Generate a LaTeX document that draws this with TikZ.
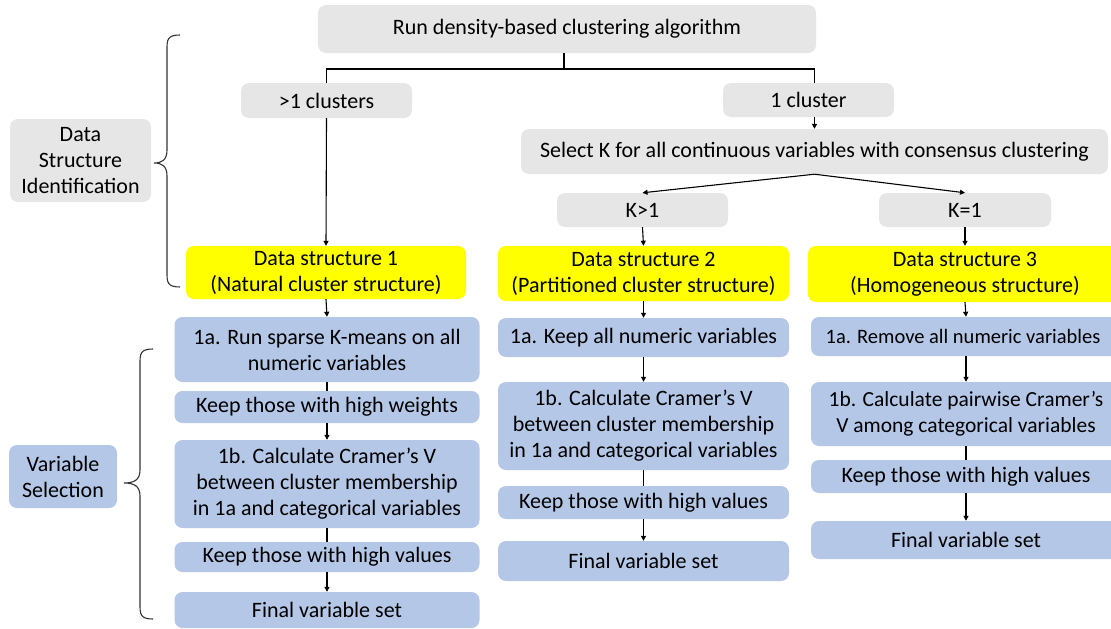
\documentclass[tikz,border=0pt]{standalone}
\usepackage{fontspec}
\setmainfont{Carlito}
\usetikzlibrary{arrows.meta}
\definecolor{boxgrey}{HTML}{E7E6E6}
\definecolor{boxblue}{HTML}{B4C7E7}
\definecolor{boxyellow}{HTML}{FFFF00}
\tikzset{
  base/.style={rounded corners=8pt, inner sep=0pt, align=center, font=\fontsize{22}{26}\selectfont, text=black},
  gbox/.style={base, fill=boxgrey},
  bbox/.style={base, fill=boxblue},
  ybox/.style={base, fill=boxyellow},
  ln/.style={line width=1.1pt, black},
  arr/.style={ln, -{Triangle[length=5pt,width=5pt]}},
  brc/.style={line width=1.1pt, black!80},
}
\begin{document}
\begin{tikzpicture}[x=1pt,y=-1pt]
\useasboundingbox (0,0) rectangle (1111,629);
% top level
\node[gbox, minimum width=498, minimum height=48] (top) at (567,29) {Run density-based clustering algorithm};
\node[gbox, minimum width=171, minimum height=35] (c1) at (326.5,100.5) {>1 clusters};
\node[gbox, minimum width=171, minimum height=34] (c2) at (808.5,100) {1 cluster};
\node[gbox, minimum width=587, minimum height=45] (selk) at (814.5,151.5) {Select K for all continuous variables with consensus clustering};
\node[gbox, minimum width=171, minimum height=34] (kgt) at (642.5,210) {K>1};
\node[gbox, minimum width=172, minimum height=34] (keq) at (965,210) {K=1};
% data structures
\node[ybox, minimum width=280, minimum height=53] (ds1) at (326,272.5) {Data structure 1\\(Natural cluster structure)};
\node[ybox, minimum width=291, minimum height=55] (ds2) at (643.5,273.5) {Data structure 2\\(Partitioned cluster structure)};
\node[ybox, minimum width=314, minimum height=56] (ds3) at (965,274) {Data structure 3\\(Homogeneous structure)};
% side labels
\node[gbox, minimum width=141, minimum height=83] (dsi) at (80.5,160.5) {Data\\Structure\\Identification};
\node[bbox, minimum width=108, minimum height=63] (vs) at (63,476.5) {Variable\\Selection};
% column 1
\node[bbox, minimum width=305, minimum height=65] (a1) at (327,349.5) {1a. Run sparse K-means on all\\numeric variables};
\node[bbox, minimum width=305, minimum height=32] (w1) at (327,407) {Keep those with high weights};
\node[bbox, minimum width=305, minimum height=88] (b1) at (327,484) {1b. Calculate Cramer’s V\\between cluster membership\\in 1a and categorical variables};
\node[bbox, minimum width=305, minimum height=30] (v1) at (327,557) {Keep those with high values};
\node[bbox, minimum width=305, minimum height=36] (f1) at (327,610) {Final variable set};
% column 2
\node[bbox, minimum width=291, minimum height=39] (a2) at (643.5,337.5) {1a. Keep all numeric variables};
\node[bbox, minimum width=291, minimum height=88] (b2) at (643.5,426) {1b. Calculate Cramer’s V\\between cluster membership\\in 1a and categorical variables};
\node[bbox, minimum width=291, minimum height=33] (v2) at (643.5,502.5) {Keep those with high values};
\node[bbox, minimum width=291, minimum height=40] (f2) at (643.5,561) {Final variable set};
% column 3
\node[bbox, minimum width=310, minimum height=39, font=\fontsize{20.5}{25}\selectfont] (a3) at (966,336.5) {\hspace*{-6pt}1a. Remove all numeric variables};
\node[bbox, minimum width=310, minimum height=64, font=\fontsize{21.5}{26}\selectfont] (b3) at (966,414) {1b. Calculate pairwise Cramer’s\\V among categorical variables};
\node[bbox, minimum width=310, minimum height=33] (v3) at (966,476.5) {Keep those with high values};
\node[bbox, minimum width=310, minimum height=38] (f3) at (966,540) {Final variable set};
% connectors
\coordinate (j) at (564,69);
\draw[ln] (top.south -| j) -- (j);
\draw[ln] (j) -| (c1.north);
\draw[ln] (j) -| (c2.north -| selk.north);
\draw[arr] (c1.south) -- (ds1.north);
\draw[arr] (c2.south -| selk.north) -- (selk.north);
\draw[arr] (selk.south) -- (kgt.north);
\draw[arr] (selk.south) -- (keq.north);
\draw[arr] (kgt.south) -- (ds2.north);
\draw[arr] (keq.south) -- (ds3.north);
\draw[arr] (ds1.south) -- (a1.north);
\draw[ln] (a1.south) -- (w1.north);
\draw[arr] (w1.south) -- (b1.north);
\draw[ln] (b1.south) -- (v1.north);
\draw[arr] (v1.south) -- (f1.north);
\draw[arr] (ds2.south) -- (a2.north);
\draw[arr] (a2.south) -- (b2.north);
\draw[ln] (b2.south) -- (v2.north);
\draw[arr] (v2.south) -- (f2.north);
\draw[arr] (ds3.south) -- (a3.north);
\draw[arr] (a3.south) -- (b3.north);
\draw[ln] (b3.south) -- (v3.north);
\draw[arr] (v3.south) -- (f3.north);
% braces
\draw[brc] (180,35) .. controls (167,35) and (167,40) .. (167,50) -- (167,150) .. controls (167,160) and (162,163) .. (154,163) .. controls (162,163) and (167,166) .. (167,176) -- (167,272) .. controls (167,282) and (167,287) .. (180,287);
\draw[brc] (153,349) .. controls (140,349) and (140,354) .. (140,364) -- (140,470) .. controls (140,480) and (134,483) .. (124,483) .. controls (134,483) and (140,486) .. (140,496) -- (140,604) .. controls (140,614) and (140,619) .. (153,619);
\end{tikzpicture}
\end{document}
